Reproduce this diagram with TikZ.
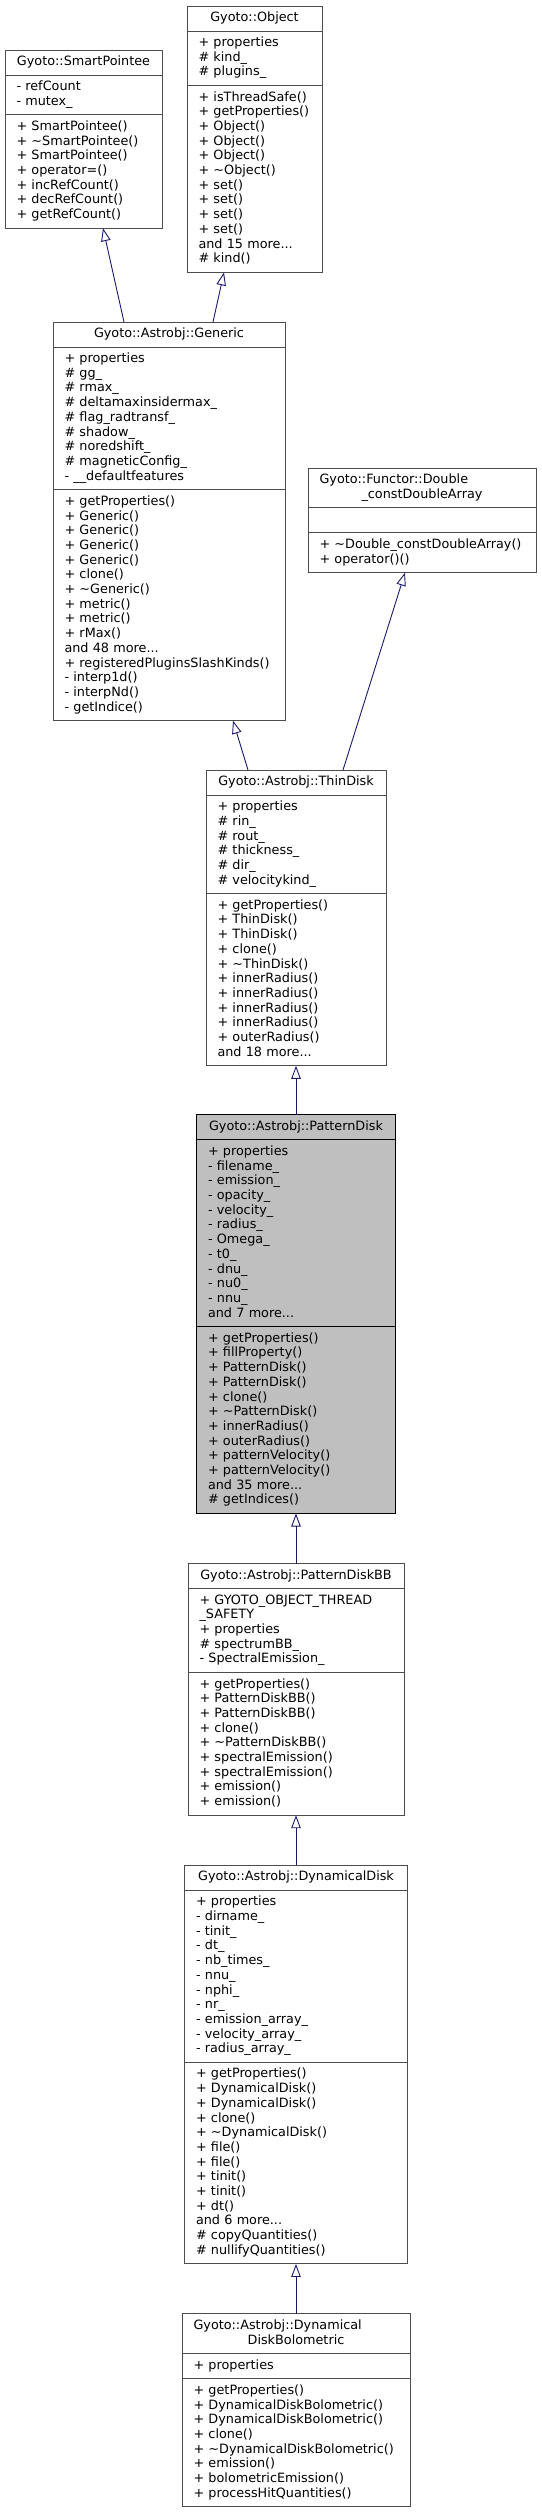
\documentclass[tikz,border=0pt]{standalone}
\usepackage{fontspec}
\setmainfont{DejaVu Sans}
\usepackage{xcolor}
\usepackage{tikz}
\usetikzlibrary{arrows.meta,positioning}
\definecolor{edgeblue}{HTML}{191970}
\definecolor{boxgray}{HTML}{4D4D4D}
\definecolor{mainfill}{HTML}{BFBFBF}

\begin{document}
\begin{tikzpicture}[
    x=1pt, y=1pt,
    node distance=0pt,
    every node/.style={font=\fontsize{12.8}{14.7}\selectfont},
    boxpart/.style={
      rectangle, draw=boxgray, line width=0.9pt, fill=white, outer sep=0pt,
      inner xsep=11.5pt, inner ysep=5.2pt, align=left
    },
    titlepart/.style={boxpart, align=center},
    mainpart/.style={boxpart, draw=black, fill=mainfill},
    maintitle/.style={mainpart, align=center},
    inheritarr/.style={-{Triangle[open, length=13pt, width=9.5pt]}, draw=edgeblue, line width=0.9pt}
  ]
    \useasboundingbox (0,0) rectangle (541,-2512);

    % Base classes
    \node[titlepart, text width=134pt, anchor=north] (smartT) at (83.5,-50) {\strut Gyoto::SmartPointee\strut};
    \node[boxpart, text width=134pt, below=of smartT] (smartA) {\strut - refCount\\- mutex\_\strut};
    \node[boxpart, text width=134pt, below=of smartA] (smartM) {%
      \strut + SmartPointee()\\+ \textasciitilde SmartPointee()\\+ SmartPointee()\\+ operator=()\\%
      + incRefCount()\\+ decRefCount()\\+ getRefCount()\strut};

    \node[titlepart, text width=112pt, anchor=north] (objectT) at (254.5,-6) {\strut Gyoto::Object\strut};
    \node[boxpart, text width=112pt, below=of objectT] (objectA) {\strut + properties\\\# kind\_\\\# plugins\_\strut};
    \node[boxpart, text width=112pt, below=of objectA] (objectM) {%
      \strut + isThreadSafe()\\+ getProperties()\\+ Object()\\+ Object()\\+ Object()\\+ \textasciitilde Object()\\%
      + set()\\+ set()\\+ set()\\+ set()\\and 15 more...\\\# kind()\strut};

    \node[titlepart, text width=209pt, anchor=north] (genericT) at (169,-322) {\strut Gyoto::Astrobj::Generic\strut};
    \node[boxpart, text width=209pt, below=of genericT] (genericA) {%
      \strut + properties\\\# gg\_\\\# rmax\_\\\# deltamaxinsidermax\_\\\# flag\_radtransf\_\\\# shadow\_\\%
      \# noredshift\_\\\# magneticConfig\_\\- \_\_defaultfeatures\strut};
    \node[boxpart, text width=209pt, below=of genericA] (genericM) {%
      \strut + getProperties()\\+ Generic()\\+ Generic()\\+ Generic()\\+ Generic()\\+ clone()\\%
      + \textasciitilde Generic()\\+ metric()\\+ metric()\\+ rMax()\\and 48 more...\\%
      +~registeredPluginsSlashKinds()\\- interp1d()\\- interpNd()\\- getIndice()\strut};

    \node[boxpart, text width=205pt, anchor=north] (functorT) at (422,-468) {%
      \strut Gyoto::Functor::Double\\\hspace*{\fill}\_constDoubleArray\hspace*{\fill}\strut};
    \node[boxpart, text width=205pt, below=of functorT] (functorA) {\strut};
    \node[boxpart, text width=205pt, below=of functorA] (functorM) {%
      \strut +~\textasciitilde Double\_constDoubleArray()\\+ operator()()\strut};

    % Disk chain
    \node[titlepart, text width=157pt, anchor=north] (thinT) at (296,-770) {\strut Gyoto::Astrobj::ThinDisk\strut};
    \node[boxpart, text width=157pt, below=of thinT] (thinA) {%
      \strut + properties\\\# rin\_\\\# rout\_\\\# thickness\_\\\# dir\_\\\# velocitykind\_\strut};
    \node[boxpart, text width=157pt, below=of thinA] (thinM) {%
      \strut + getProperties()\\+ ThinDisk()\\+ ThinDisk()\\+ clone()\\+ \textasciitilde ThinDisk()\\%
      + innerRadius()\\+ innerRadius()\\+ innerRadius()\\+ innerRadius()\\+ outerRadius()\\and 18 more...\strut};

    \node[maintitle, text width=176pt, below=49pt of thinM] (patternT) {\strut Gyoto::Astrobj::PatternDisk\strut};
    \node[mainpart, text width=176pt, below=of patternT] (patternA) {%
      \strut + properties\\- filename\_\\- emission\_\\- opacity\_\\- velocity\_\\- radius\_\\- Omega\_\\%
      - t0\_\\- dnu\_\\- nu0\_\\- nnu\_\\and 7 more...\strut};
    \node[mainpart, text width=176pt, below=of patternA] (patternM) {%
      \strut + getProperties()\\+ fillProperty()\\+ PatternDisk()\\+ PatternDisk()\\+ clone()\\%
      + \textasciitilde PatternDisk()\\+ innerRadius()\\+ outerRadius()\\+ patternVelocity()\\%
      + patternVelocity()\\and 35 more...\\\# getIndices()\strut};

    \node[titlepart, text width=193pt, below=50pt of patternM] (patternbbT) {\strut Gyoto::Astrobj::PatternDiskBB\strut};
    \node[boxpart, text width=193pt, below=of patternbbT] (patternbbA) {%
      \strut + GYOTO\_OBJECT\_THREAD\\\_SAFETY\\+ properties\\\# spectrumBB\_\\- SpectralEmission\_\strut};
    \node[boxpart, text width=193pt, below=of patternbbA] (patternbbM) {%
      \strut + getProperties()\\+ PatternDiskBB()\\+ PatternDiskBB()\\+ clone()\\+ \textasciitilde PatternDiskBB()\\%
      + spectralEmission()\\+ spectralEmission()\\+ emission()\\+ emission()\strut};

    \node[titlepart, text width=200pt, below=50pt of patternbbM] (dynT) {\strut Gyoto::Astrobj::DynamicalDisk\strut};
    \node[boxpart, text width=200pt, below=of dynT] (dynA) {%
      \strut + properties\\- dirname\_\\- tinit\_\\- dt\_\\- nb\_times\_\\- nnu\_\\- nphi\_\\- nr\_\\%
      - emission\_array\_\\- velocity\_array\_\\- radius\_array\_\strut};
    \node[boxpart, text width=200pt, below=of dynA] (dynM) {%
      \strut + getProperties()\\+ DynamicalDisk()\\+ DynamicalDisk()\\+ clone()\\+ \textasciitilde DynamicalDisk()\\%
      + file()\\+ file()\\+ tinit()\\+ tinit()\\+ dt()\\and 6 more...\\\# copyQuantities()\\%
      \# nullifyQuantities()\strut};

    \node[boxpart, text width=205pt, below=50pt of dynM] (dynboloT) {%
      \strut Gyoto::Astrobj::Dynamical\\\hspace*{\fill}DiskBolometric\hspace*{\fill}\strut};
    \node[boxpart, text width=205pt, below=of dynboloT] (dynboloA) {\strut + properties\strut};
    \node[boxpart, text width=205pt, below=of dynboloA] (dynboloM) {%
      \strut + getProperties()\\+~DynamicalDiskBolometric()\\+~DynamicalDiskBolometric()\\+ clone()\\%
      +~\textasciitilde DynamicalDiskBolometric()\\+ emission()\\+ bolometricEmission()\\%
      + processHitQuantities()\strut};

    % Inheritance arrows
    \draw[inheritarr] ([xshift=-45pt]genericT.north) -- ([xshift=19.5pt]smartM.south);
    \draw[inheritarr] ([xshift=44pt]genericT.north) -- ([xshift=-30.5pt]objectM.south);
    \draw[inheritarr] ([xshift=-48pt]thinT.north) -- ([xshift=64pt]genericM.south);
    \draw[inheritarr] ([xshift=47pt]thinT.north) -- ([xshift=-17pt]functorM.south);
    \draw[inheritarr] (patternT.north) -- (thinM.south);
    \draw[inheritarr] (patternbbT.north) -- (patternM.south);
    \draw[inheritarr] (dynT.north) -- (patternbbM.south);
    \draw[inheritarr] (dynboloT.north) -- (dynM.south);
  \end{tikzpicture}
\end{document}
